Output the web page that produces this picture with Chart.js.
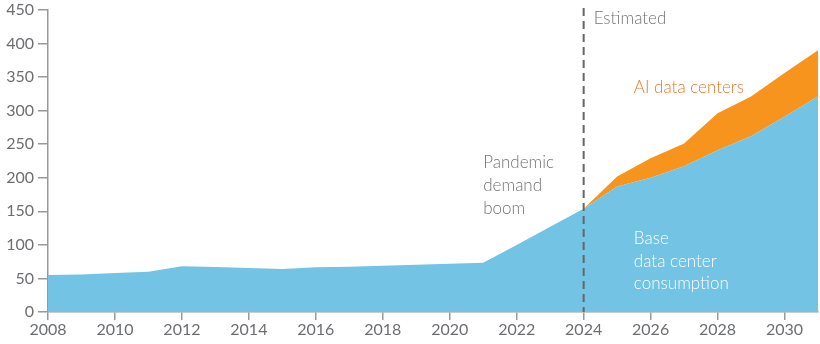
<!DOCTYPE html>
<html>
<head>
<meta charset="utf-8">
<script src="https://cdn.jsdelivr.net/npm/chart.js@4/dist/chart.umd.min.js"></script>
<style>
  html, body { margin: 0; padding: 0; background: #fff; }
  #wrap { width: 820px; height: 344px; position: relative; }
</style>
</head>
<body>
<div id="wrap"><canvas id="c" width="820" height="344"></canvas></div>
<script>
const years = [2008,2009,2010,2011,2012,2013,2014,2015,2016,2017,2018,2019,2020,2021,2022,2023,2024,2025,2026,2027,2028,2029,2030,2031];
const baseConsumption = [55,56,58,60,68,67,65.5,64,66.5,67.5,69,70.5,72,73.5,100,127,154,187,200,217,241,262,291,321];
const aiYears = [2024,2025,2026,2027,2028,2029,2030,2031];
const aiConsumption = [0,15,29,34,55,59,65,69];
const yTicks = [0,50,100,150,200,250,300,350,400,450];
const xTickYears = [2008,2010,2012,2014,2016,2018,2020,2022,2024,2026,2028,2030];
const estimatedYear = 2024;

const FONT = 'Lato, "Open Sans", sans-serif';
const GRAY = '#6d6e71';

const basePoints = years.map((y, i) => ({x: y, y: baseConsumption[i]}));
const totalPoints = aiYears.map((y, i) => ({x: y, y: baseConsumption[years.indexOf(y)] + aiConsumption[i]}));

const annotations = {
  id: 'annotations',
  afterDatasetsDraw(chart) {
    const {ctx, scales: {x, y}, chartArea} = chart;
    ctx.save();
    const xe = x.getPixelForValue(estimatedYear);
    ctx.strokeStyle = '#666';
    ctx.lineWidth = 2;
    ctx.setLineDash([8, 5]);
    ctx.beginPath();
    ctx.moveTo(xe, 8);
    ctx.lineTo(xe, chartArea.bottom);
    ctx.stroke();
    ctx.setLineDash([]);
    ctx.font = '300 17px ' + FONT;
    ctx.textBaseline = 'middle';
    ctx.textAlign = 'left';
    ctx.fillStyle = '#737373';
    ctx.fillText('Estimated', xe + 10, 19);
    const xp = x.getPixelForValue(2021.0);
    ['Pandemic', 'demand', 'boom'].forEach((t, i) => ctx.fillText(t, xp, y.getPixelForValue(222) + i * 23));
    ctx.fillStyle = '#e8782a';
    const xa = x.getPixelForValue(2025.5);
    ctx.fillText('AI data centers', xa, y.getPixelForValue(334));
    ctx.fillStyle = '#ffffff';
    ['Base', 'data center', 'consumption'].forEach((t, i) => ctx.fillText(t, xa, y.getPixelForValue(109) + i * 22.5));
    ctx.restore();
  }
};

new Chart(document.getElementById('c'), {
  type: 'line',
  data: {
    datasets: [
      {
        label: 'Base data center consumption',
        data: basePoints,
        fill: 'origin',
        backgroundColor: '#72c3e4',
        borderWidth: 0,
        pointRadius: 0,
        tension: 0,
        order: 1
      },
      {
        label: 'AI data centers',
        data: totalPoints,
        fill: '-1',
        backgroundColor: '#f7941d',
        borderWidth: 0,
        pointRadius: 0,
        tension: 0,
        order: 2
      }
    ]
  },
  options: {
    responsive: false,
    animation: false,
    devicePixelRatio: 1,
    layout: { padding: { top: 10, right: 2, left: 0, bottom: 0 } },
    plugins: { legend: { display: false }, tooltip: { enabled: false } },
    scales: {
      x: {
        type: 'linear',
        min: 2008,
        max: 2031,
        afterBuildTicks(axis) { axis.ticks = xTickYears.map(v => ({value: v})); },
        afterFit(axis) { axis.height = 32; axis.paddingLeft = 0; axis.paddingRight = 0; },
        ticks: {
          autoSkip: false,
          maxRotation: 0,
          color: GRAY,
          font: { family: FONT, size: 16, weight: 400 },
          padding: 0,
          callback: v => String(v)
        },
        grid: { display: true, drawOnChartArea: false, drawTicks: true, tickLength: 8, color: '#999', lineWidth: 1.5 },
        border: { display: true, color: '#999', width: 1.5 }
      },
      y: {
        min: 0,
        max: 450,
        afterBuildTicks(axis) { axis.ticks = yTicks.map(v => ({value: v})); },
        afterFit(axis) { axis.width = 48; axis.paddingTop = 0; axis.paddingBottom = 0; },
        ticks: {
          color: GRAY,
          font: { family: FONT, size: 16, weight: 400 },
          padding: 4
        },
        grid: { display: true, drawOnChartArea: false, drawTicks: true, tickLength: 10, color: '#999', lineWidth: 1.5 },
        border: { display: true, color: '#999', width: 1.5 }
      }
    }
  },
  plugins: [annotations]
});
</script>
</body>
</html>
